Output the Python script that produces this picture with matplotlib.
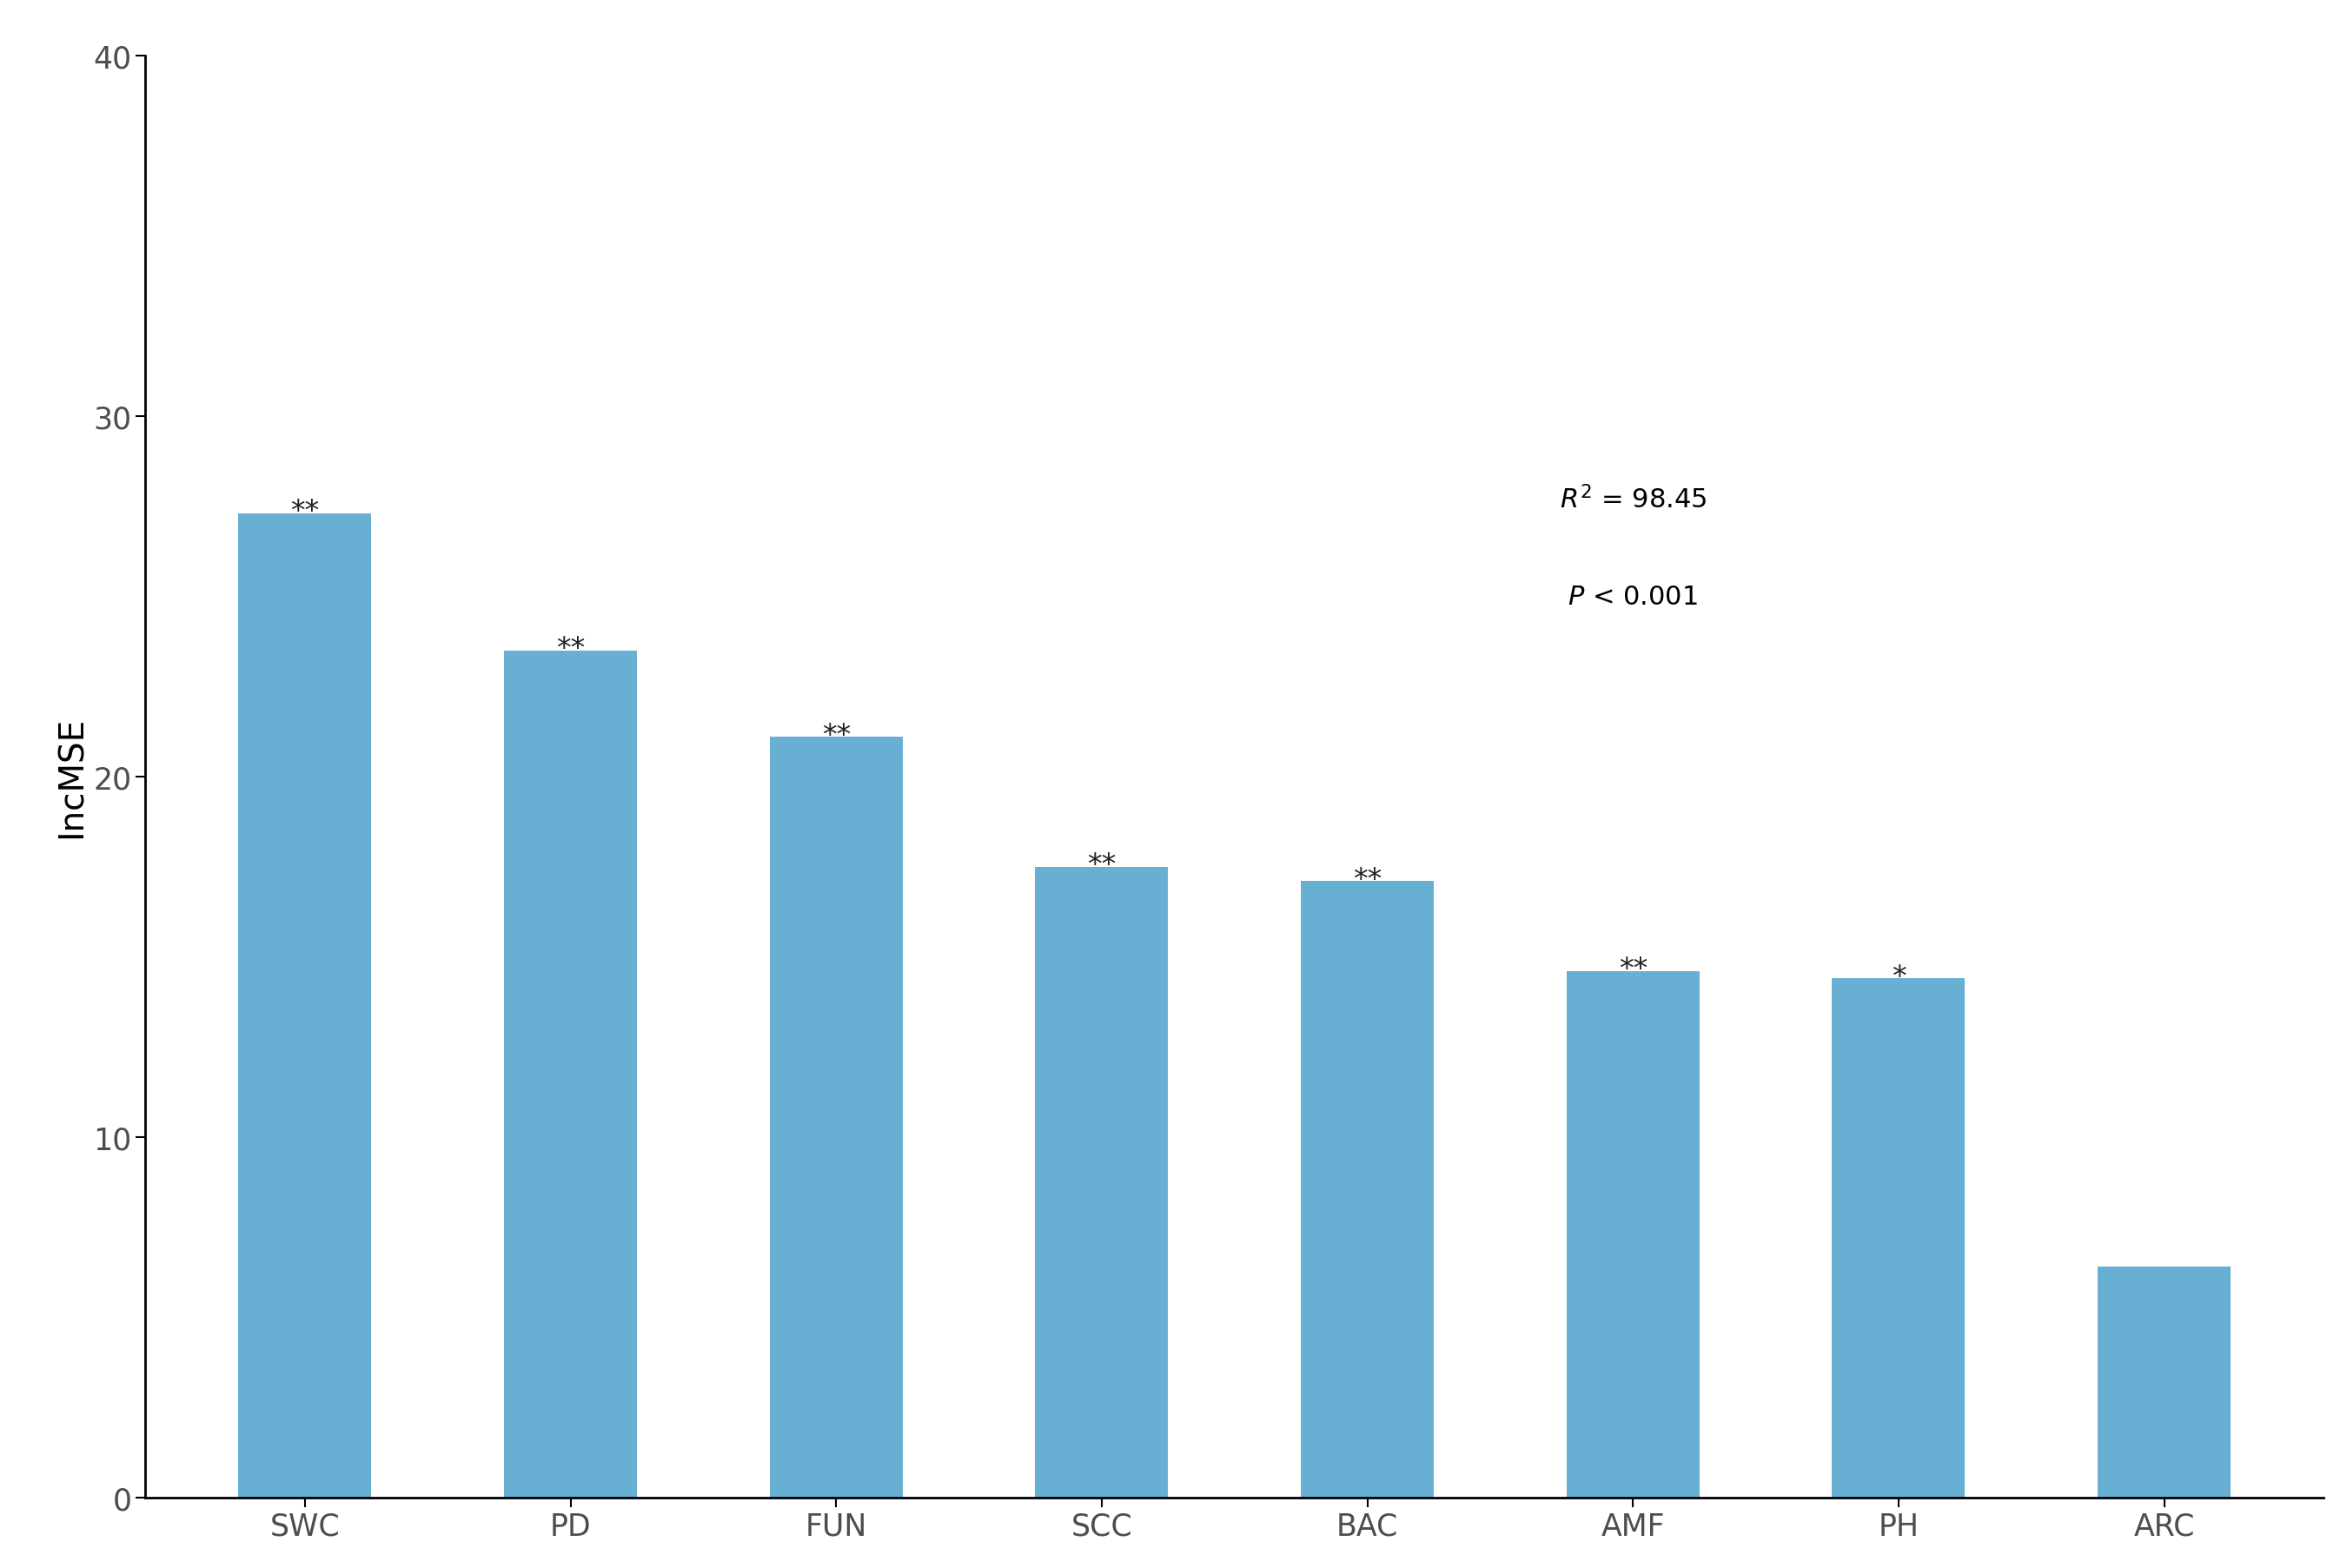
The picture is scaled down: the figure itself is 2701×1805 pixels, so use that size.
import matplotlib
matplotlib.use("Agg")
import matplotlib.pyplot as plt

categories = ["SWC", "PD", "FUN", "SCC", "BAC", "AMF", "PH", "ARC"]
values = [27.3, 23.5, 21.1, 17.5, 17.1, 14.6, 14.4, 6.4]
stars = ["**", "**", "**", "**", "**", "**", "*", ""]

fig = plt.figure(figsize=(27.01, 18.06), dpi=100)
ax = fig.add_axes([0.062, 0.045, 0.928, 0.919])

x = range(len(categories))
ax.bar(x, values, width=0.5, color="#67afd3")
for i, (v, s) in enumerate(zip(values, stars)):
    if s:
        ax.text(i, v - 0.35, s, ha="center", va="bottom", fontsize=24, color="#222222")

ax.text(5, 27.7, r"$R^2$ = 98.45", ha="center", va="center", fontsize=22)
ax.text(5, 25.0, r"$P$ < 0.001", ha="center", va="center", fontsize=22)

ax.set_xlim(-0.6, 7.6)
ax.set_ylim(0, 40)
ax.set_yticks([0, 10, 20, 30, 40])
ax.set_xticks(list(x))
ax.set_xticklabels(categories)
ax.set_ylabel("IncMSE", fontsize=28)
ax.tick_params(labelsize=25, labelcolor="#4d4d4d", length=8, width=1.5)
for side in ["top", "right"]:
    ax.spines[side].set_visible(False)
for side in ["left", "bottom"]:
    ax.spines[side].set_linewidth(2)

fig.savefig("out.png", dpi=100)
